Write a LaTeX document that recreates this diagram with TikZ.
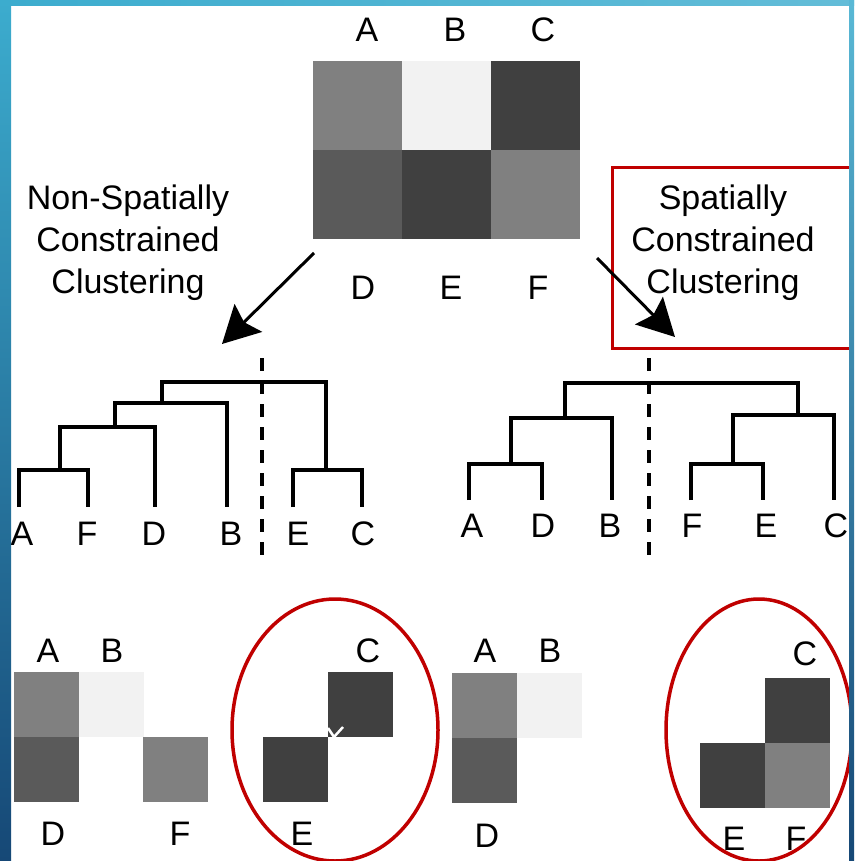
\documentclass[tikz,border=0pt]{standalone}
\usepackage{fontspec}
\setmainfont{Liberation Sans}
\usetikzlibrary{arrows.meta}

\definecolor{frameTop}{RGB}{60,172,206}
\definecolor{frameBot}{RGB}{22,72,118}
\definecolor{ringred}{RGB}{192,0,0}
\definecolor{gMid}{RGB}{128,128,128}
\definecolor{gDark}{RGB}{90,90,90}
\definecolor{gDeep}{RGB}{64,64,64}
\definecolor{gPale}{RGB}{242,242,242}

\tikzset{
  lbl/.style={font=\fontsize{34}{42}\selectfont, inner sep=0pt, anchor=base},
  caption/.style={font=\fontsize{34}{42}\selectfont, inner sep=0pt, align=center},
  cell/.style={inner sep=0pt, outer sep=0pt, minimum width=#1, minimum height=#1, anchor=north west},
  dend/.style={line width=4pt, line join=miter},
  cutline/.style={line width=3.5pt, dash pattern=on 13pt off 10pt},
  bigarrow/.style={line width=3pt, -{Stealth[length=37pt,width=39pt,inset=6pt]}},
  ring/.style={draw=ringred, line width=3.5pt},
}

\begin{document}
\begin{tikzpicture}[x=1pt, y=-1pt]
\useasboundingbox (0,0) rectangle (854,861);
\fill[white] (0,0) rectangle (854,861);

% ---- data matrix ----
\node[cell=89, fill=gMid]  (mA) at (313,61)  {};
\node[cell=89, fill=gPale] (mB) at (402,61)  {};
\node[cell=89, fill=gDeep] (mC) at (491,61)  {};
\node[cell=89, fill=gDark] (mD) at (313,150) {};
\node[cell=89, fill=gDeep] (mE) at (402,150) {};
\node[cell=89, fill=gMid]  (mF) at (491,150) {};
\node[lbl] (tA) at (367,42) {A};
\node[lbl] (tB) at (455,42) {B};
\node[lbl] (tC) at (543,42) {C};
\node[lbl] (tD) at (363,299) {D};
\node[lbl] (tE) at (451,299) {E};
\node[lbl] (tF) at (538,299) {F};

% ---- method captions ----
\node[caption] (nonsp) at (128,243) {Non-Spatially\\Constrained\\Clustering};
\node[caption] (sp) at (723,243) {Spatially\\Constrained\\Clustering};
\node[draw=ringred, line width=3pt, inner sep=0pt, minimum width=240, minimum height=181, anchor=north west] (spbox) at (611,166) {};

% ---- arrows ----
\coordinate (lfrom) at (314,253);
\coordinate (lto) at (222,344);
\coordinate (rfrom) at (597,258);
\coordinate (rto) at (675,337);
\draw[bigarrow] (lfrom) -- (lto);
\draw[bigarrow] (rfrom) -- (rto);

% ---- left dendrogram ----
\draw[dend] (19,507) -- (19,470) -- (88,470) -- (88,507);
\draw[dend] (60,470) -- (60,427) -- (155,427) -- (155,507);
\draw[dend] (115,427) -- (115,403) -- (227,403) -- (227,507);
\draw[dend] (293,507) -- (293,470) -- (362,470) -- (362,507);
\draw[dend] (162,403) -- (162,382) -- (326,382) -- (326,470);
\draw[cutline] (262,358) -- (262,555);
\node[lbl] (lA) at (22,545)  {A};
\node[lbl] (lF) at (87,545)  {F};
\node[lbl] (lD) at (154,545) {D};
\node[lbl] (lB) at (231,545) {B};
\node[lbl] (lE) at (298,545) {E};
\node[lbl] (lC) at (363,545) {C};

% ---- right dendrogram ----
\draw[dend] (469,500) -- (469,464) -- (542,464) -- (542,500);
\draw[dend] (511,464) -- (511,418) -- (612,418) -- (612,500);
\draw[dend] (691,500) -- (691,464) -- (763,464) -- (763,500);
\draw[dend] (733,464) -- (733,415) -- (834,415) -- (834,500);
\draw[dend] (565,418) -- (565,383) -- (798,383) -- (798,415);
\draw[cutline] (649,358) -- (649,555);
\node[lbl] (rA) at (472,537) {A};
\node[lbl] (rD) at (543,537) {D};
\node[lbl] (rB) at (610,537) {B};
\node[lbl] (rF) at (692,537) {F};
\node[lbl] (rE) at (766,537) {E};
\node[lbl] (rC) at (836,537) {C};

% ---- non-spatial clusters ----
\node[cell=65, fill=gMid]  (pA) at (14,672)  {};
\node[cell=65, fill=gPale] (pB) at (79,672)  {};
\node[cell=65, fill=gDark] (pD) at (14,737)  {};
\node[cell=65, fill=gMid]  (pF) at (143,737) {};
\node[cell=65, fill=gDeep] (pE) at (263,737) {};
\node[cell=65, fill=gDeep] (pC) at (328,672) {};
\draw[white, line width=2.5pt] (328,728) -- (334,737) -- (343,727);
\node[lbl] (pAl) at (48,662)  {A};
\node[lbl] (pBl) at (112,662) {B};
\node[lbl] (pCl) at (368,662) {C};
\node[lbl] (pDl) at (53,845)  {D};
\node[lbl] (pFl) at (180,845) {F};
\node[lbl] (pEl) at (302,845) {E};
\draw[ring] (335,730) ellipse [x radius=103, y radius=131];

% ---- spatial clusters ----
\node[cell=65, fill=gMid]  (qA) at (452,673) {};
\node[cell=65, fill=gPale] (qB) at (517,673) {};
\node[cell=65, fill=gDark] (qD) at (452,738) {};
\node[cell=65, fill=gDeep] (qE) at (700,743) {};
\node[cell=65, fill=gMid]  (qF) at (765,743) {};
\node[cell=65, fill=gDeep] (qC) at (765,678) {};
\node[lbl] (qAl) at (485,662) {A};
\node[lbl] (qBl) at (550,662) {B};
\node[lbl] (qCl) at (805,665) {C};
\node[lbl] (qDl) at (487,847) {D};
\node[lbl] (qEl) at (734,850) {E};
\node[lbl] (qFl) at (796,850) {F};
\draw[ring] (759,730) ellipse [x radius=93, y radius=131];

% ---- slide frame ----
\shade[top color=frameTop, bottom color=frameBot] (0,0) rectangle (11,861);
\shade[left color=frameTop, right color=frameTop!80!white] (0,0) rectangle (854,6);
\shade[top color=frameTop!85!white, bottom color=frameBot] (849,0) rectangle (854,861);
\end{tikzpicture}
\end{document}
